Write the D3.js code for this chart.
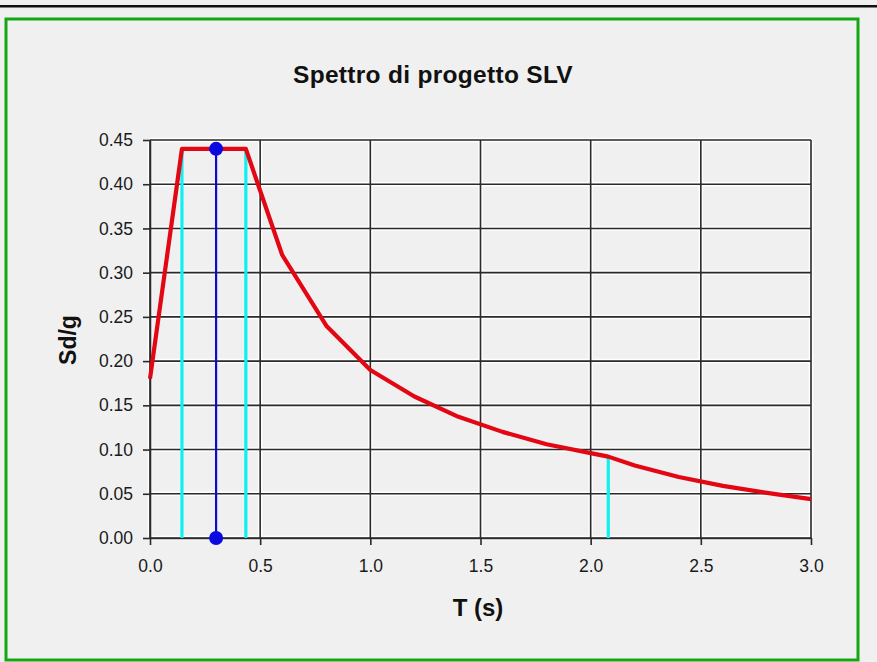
<!DOCTYPE html>
<html><head><meta charset="utf-8">
<script src="https://cdn.jsdelivr.net/npm/d3@7"></script>
<style>
html,body{margin:0;padding:0;background:#f0f0f0;}
svg{display:block;}
text{font-family:"Liberation Sans",Arial,sans-serif;}
</style></head>
<body>
<svg id="chart" width="877" height="662"></svg>
<script>
// Data
const periodT = [0, 0.145, 0.435, 0.6, 0.8, 1.0, 1.2, 1.4, 1.6, 1.8, 2.0, 2.08, 2.2, 2.4, 2.6, 2.8, 3.0];
const sdValues = [0.18, 0.44, 0.44, 0.32, 0.24, 0.19, 0.16, 0.137, 0.12, 0.106, 0.096, 0.092, 0.082, 0.069, 0.059, 0.051, 0.044];
const cornerT = [0.145, 0.435, 2.08];
const cornerSd = [0.44, 0.44, 0.092];
const designT = [0.3];
const designSd = [0.44];
const xTicks = [0, 0.5, 1.0, 1.5, 2.0, 2.5, 3.0];
const yTicks = [0, 0.05, 0.10, 0.15, 0.20, 0.25, 0.30, 0.35, 0.40, 0.45];
const chartTitle = "Spettro di progetto SLV";
const xTitle = "T (s)";
const yTitle = "Sd/g";

const svg = d3.select("#chart");
// top black rule
svg.append("rect").attr("x",0).attr("y",5).attr("width",877).attr("height",2.5).attr("fill","#111");
// green frame
svg.append("rect").attr("x",6).attr("y",19).attr("width",852).attr("height",641)
  .attr("fill","#f0f0f0").attr("stroke","#13a813").attr("stroke-width",3);

const x = d3.scaleLinear().domain([0,3]).range([150,811]);
const y = d3.scaleLinear().domain([0,0.45]).range([538,140]);

const g = svg.append("g");
// grid with white halo
const gridColor = "#2a2a2a";
xTicks.forEach(t=>{
  g.append("line").attr("x1",x(t)+1.5).attr("x2",x(t)+1.5).attr("y1",y(0.45)).attr("y2",y(0)).attr("stroke","#fff").attr("stroke-width",1.5);
  g.append("line").attr("x1",x(t)-1.5).attr("x2",x(t)-1.5).attr("y1",y(0.45)).attr("y2",y(0)).attr("stroke","#fff").attr("stroke-width",1.5);
});
yTicks.forEach(t=>{
  g.append("line").attr("x1",x(0)).attr("x2",x(3)).attr("y1",y(t)+1.5).attr("y2",y(t)+1.5).attr("stroke","#fff").attr("stroke-width",1.5);
  g.append("line").attr("x1",x(0)).attr("x2",x(3)).attr("y1",y(t)-1.5).attr("y2",y(t)-1.5).attr("stroke","#fff").attr("stroke-width",1.5);
});
xTicks.forEach(t=>{
  g.append("line").attr("x1",x(t)).attr("x2",x(t)).attr("y1",y(0.45)).attr("y2",y(0)).attr("stroke",gridColor).attr("stroke-width",1.6);
});
yTicks.forEach(t=>{
  g.append("line").attr("x1",x(0)).attr("x2",x(3)).attr("y1",y(t)).attr("y2",y(t)).attr("stroke",gridColor).attr("stroke-width",1.6);
});

// axes
const xAxis = d3.axisBottom(x).tickValues(xTicks).tickFormat(d3.format(".1f")).tickSize(7).tickSizeOuter(0);
const yAxis = d3.axisLeft(y).tickValues(yTicks).tickFormat(d3.format(".2f")).tickSize(7).tickSizeOuter(0);
const gx = svg.append("g").attr("transform",`translate(0,${y(0)})`).call(xAxis);
const gy = svg.append("g").attr("transform",`translate(${x(0)},0)`).call(yAxis);
[gx,gy].forEach(a=>{
  a.select(".domain").attr("stroke",gridColor).attr("stroke-width",1.6);
  a.selectAll(".tick line").attr("stroke",gridColor).attr("stroke-width",1.6);
  a.selectAll(".tick text").attr("fill","#1a1a1a").style("font-size","17.5px").style("font-family","'Liberation Sans',Arial,sans-serif");
});
gx.selectAll(".tick text").attr("y",22).attr("dy","0.71em");
gy.selectAll(".tick text").attr("x",-17);

// cyan corner period lines
cornerT.forEach((t,i)=>{
  svg.append("line").attr("x1",x(t)).attr("x2",x(t)).attr("y1",y(0)).attr("y2",y(cornerSd[i]))
    .attr("stroke","#11f0f0").attr("stroke-width",3.2);
});
// blue design period line
designT.forEach((t,i)=>{
  svg.append("line").attr("x1",x(t)).attr("x2",x(t)).attr("y1",y(0)).attr("y2",y(designSd[i]))
    .attr("stroke","#0a0ad0").attr("stroke-width",2.2);
});

// red spectrum
const line = d3.line().x((d,i)=>x(periodT[i])).y((d,i)=>y(sdValues[i]));
svg.append("path").datum(sdValues).attr("d",line).attr("fill","none")
  .attr("stroke","#e30613").attr("stroke-width",4.2).attr("stroke-linejoin","round");

// blue markers
designT.forEach((t,i)=>{
  svg.append("circle").attr("cx",x(t)).attr("cy",y(designSd[i])).attr("r",7).attr("fill","#0a0ae0");
  svg.append("circle").attr("cx",x(t)).attr("cy",y(0)).attr("r",7).attr("fill","#0a0ae0");
});

// titles
svg.append("text").attr("x",433).attr("y",83).attr("text-anchor","middle")
  .style("font-size","24.5px").style("font-weight","bold").style("letter-spacing","0.3px").attr("fill","#111").text(chartTitle);
svg.append("text").attr("x",478).attr("y",616).attr("text-anchor","middle")
  .style("font-size","24px").style("font-weight","bold").attr("fill","#111").text(xTitle);
svg.append("text").attr("transform","translate(76,340) rotate(-90)").attr("text-anchor","middle")
  .style("font-size","23px").style("font-weight","bold").attr("fill","#111").text(yTitle);
</script>
</body></html>
